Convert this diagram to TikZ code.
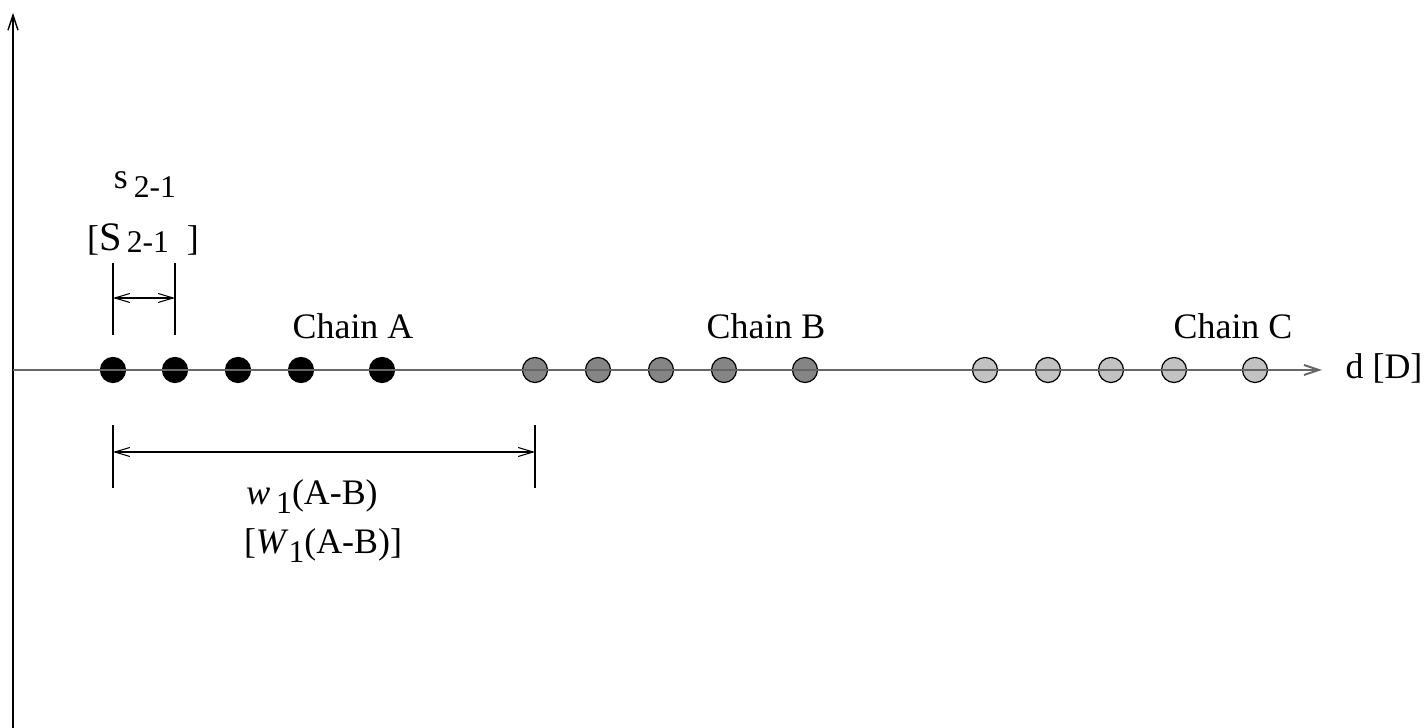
\documentclass[tikz,border=0pt]{standalone}
\usepackage{fontspec}
\setmainfont{Liberation Serif}
\usetikzlibrary{arrows.meta, positioning}
\definecolor{chainblack}{HTML}{000000}
\definecolor{chaingray}{HTML}{858585}
\definecolor{chainlight}{HTML}{C2C2C2}
\definecolor{axisgray}{HTML}{666666}
\newcommand{\lowsub}[1]{\raisebox{-0.55ex}{\small #1}}
\newcommand{\flatsub}[1]{\raisebox{-0.1ex}{\small #1}}

\begin{document}
\begin{tikzpicture}[
    x=0.01cm, y=-0.01cm,
    bead/.style={circle, draw=black, line width=0.35pt, minimum size=0.25cm, inner sep=0pt},
    label/.style={font=\fontsize{10.2}{12}\selectfont, inner sep=0pt},
    axisarrow/.style={-{Straight Barb[length=1.5mm, width=1.0mm]}, line width=0.4pt},
    dimarrow/.style={{Straight Barb[length=1.5mm, width=0.9mm]}-{Straight Barb[length=1.5mm, width=0.9mm]}, line width=0.3pt},
]
    \useasboundingbox (0,0) rectangle (1426,728);

    % Axes
    \coordinate (origin) at (13,728);
    \coordinate (ytop) at (13,13);
    \coordinate (xstart) at (13,370);
    \coordinate (xend) at (1322,370);
    \draw[axisarrow] (origin) -- (ytop);

    % Chain A
    \node[bead, fill=chainblack] (a1) at (113,370) {};
    \node[bead, fill=chainblack] (a2) at (175,370) {};
    \node[bead, fill=chainblack] (a3) at (238,370) {};
    \node[bead, fill=chainblack] (a4) at (301,370) {};
    \node[bead, fill=chainblack] (a5) at (382,370) {};
    \node[label] (labA) at (353,326) {Chain A};

    % Chain B
    \node[bead, fill=chaingray] (b1) at (535,370) {};
    \node[bead, fill=chaingray] (b2) at (598,370) {};
    \node[bead, fill=chaingray] (b3) at (661,370) {};
    \node[bead, fill=chaingray] (b4) at (724,370) {};
    \node[bead, fill=chaingray] (b5) at (805,370) {};
    \node[label] (labB) at (766,326) {Chain B};

    % Chain C
    \node[bead, fill=chainlight] (c1) at (985,370) {};
    \node[bead, fill=chainlight] (c2) at (1048,370) {};
    \node[bead, fill=chainlight] (c3) at (1111,370) {};
    \node[bead, fill=chainlight] (c4) at (1174,370) {};
    \node[bead, fill=chainlight] (c5) at (1255,370) {};
    \node[label] (labC) at (1233,326) {Chain C};

    % Distance axis on top of the beads
    \draw[axisarrow, axisgray, line width=0.55pt] (xstart) -- (xend);
    \node[label, anchor=west] (dlab) at (1345,368) {d [D]};

    % Spacing s
    \coordinate (sl1) at (113,263); \coordinate (sl2) at (113,335);
    \coordinate (sr1) at (175,263); \coordinate (sr2) at (175,335);
    \draw[line width=0.35pt] (sl1) -- (sl2);
    \draw[line width=0.35pt] (sr1) -- (sr2);
    \coordinate (sa) at (113,298); \coordinate (sb) at (175,298);
    \draw[dimarrow] (sa) -- (sb);
    \node[label] (slab) at (145,185) {s\,\lowsub{2-1}};
    \node[label] (Slab) at (143,240) {[{\fontsize{11.5}{12}\selectfont S}\flatsub{\,2-1}\ \ ]};

    % Width w
    \coordinate (wl1) at (113,425); \coordinate (wl2) at (113,488);
    \coordinate (wr1) at (535,425); \coordinate (wr2) at (535,488);
    \draw[line width=0.35pt] (wl1) -- (wl2);
    \draw[line width=0.35pt] (wr1) -- (wr2);
    \coordinate (wa) at (113,452); \coordinate (wb) at (535,452);
    \draw[dimarrow] (wa) -- (wb);
    \node[label] (wlab) at (312,497) {\textit{w}\,\lowsub{1}(A-B)};
    \node[label] (Wlab) at (323,546) {[\textit{W}\lowsub{1}(A-B)]};

\end{tikzpicture}
\end{document}
